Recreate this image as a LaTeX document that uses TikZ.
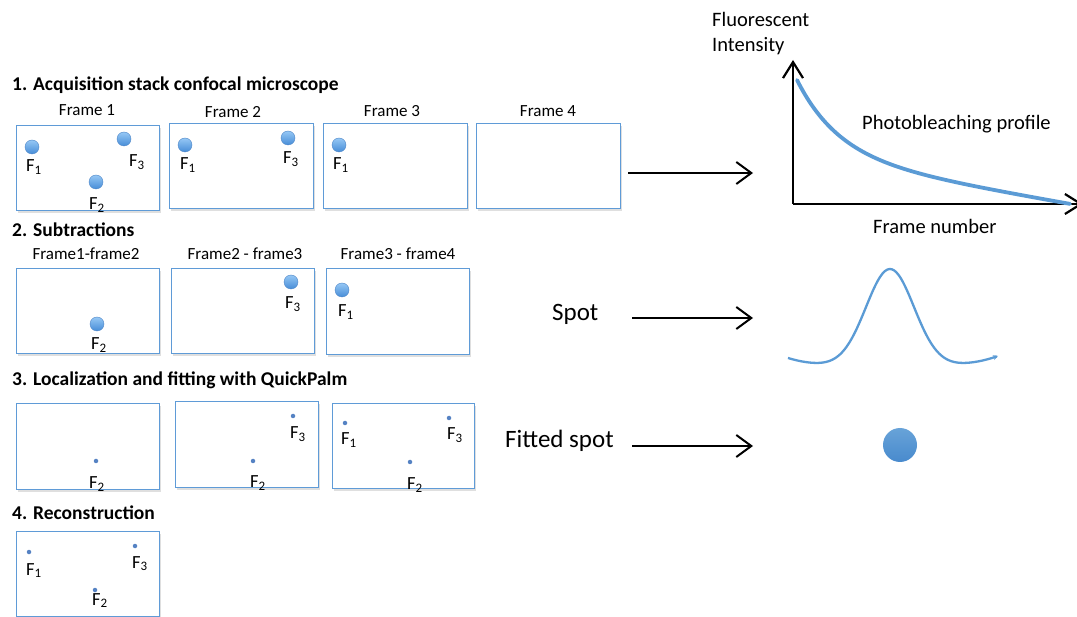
\documentclass[tikz,border=0pt]{standalone}
\usepackage{fontspec}
\setmainfont{Carlito}
\usetikzlibrary{arrows.meta,shadows}
\definecolor{frameblue}{RGB}{95,155,215}
\definecolor{dottop}{RGB}{150,200,245}
\definecolor{dotbot}{RGB}{70,140,215}
\definecolor{dotedge}{RGB}{80,135,200}
\definecolor{smalldot}{RGB}{85,130,195}
\definecolor{curveblue}{RGB}{91,155,213}
\definecolor{fitblue}{RGB}{72,138,205}
\begin{document}
\begin{tikzpicture}[x=1pt,y=-1pt,
  framebox/.style={draw=frameblue, line width=1.3pt, fill=white, anchor=north west, inner sep=0,
    drop shadow={shadow xshift=1.5pt, shadow yshift=-2pt, opacity=0.25, fill=gray}},
  bigdot/.style={circle, minimum size=14pt, inner sep=0, top color=dottop, bottom color=dotbot, draw=dotedge, line width=0.4pt},
  smdot/.style={circle, minimum size=4.5pt, inner sep=0, fill=smalldot},
  flab/.style={anchor=base west, inner sep=0, font=\fontsize{18.5}{18.5}\selectfont},
  frlab/.style={anchor=base, inner sep=0, font=\fontsize{17}{17}\selectfont},
  head/.style={anchor=base west, inner sep=0, font=\bfseries\fontsize{19.5}{20}\selectfont},
  rlab/.style={anchor=base west, inner sep=0, font=\fontsize{20.5}{21}\selectfont},
  blab/.style={anchor=base west, inner sep=0, font=\fontsize{25}{26}\selectfont},
  arr/.style={line width=2pt, -{Straight Barb[length=15pt,width=22pt,line width=2pt]}},
  axis/.style={line width=2.2pt, -{Straight Barb[length=16pt,width=20pt,line width=2.2pt]}}
]
\useasboundingbox (0,0) rectangle (1077,617);

% ---------- Row 1 ----------
\node[head] (h1) at (12,91) {1. Acquisition stack confocal microscope};
\node[frlab] (l11) at (87,116) {Frame 1};
\node[frlab] (l12) at (233,118) {Frame 2};
\node[frlab] (l13) at (392,117) {Frame 3};
\node[frlab] (l14) at (548,117) {Frame 4};
\node[framebox, minimum width=143pt, minimum height=85pt] (f11) at (16,125) {};
\node[framebox, minimum width=144pt, minimum height=85pt] (f12) at (169,123) {};
\node[framebox, minimum width=144pt, minimum height=85pt] (f13) at (323,123) {};
\node[framebox, minimum width=144pt, minimum height=85pt] (f14) at (476,123) {};
% frame 1
\node[bigdot] (d111) at (32,147) {};
\node[flab] (t111) at (26,172) {F\textsubscript{1}};
\node[bigdot] (d113) at (124,139) {};
\node[flab] (t113) at (129,167) {F\textsubscript{3}};
\node[bigdot] (d112) at (96,182) {};
\node[flab] (t112) at (89,210) {F\textsubscript{2}};
% frame 2
\node[bigdot] (d121) at (185,145) {};
\node[flab] (t121) at (180,170) {F\textsubscript{1}};
\node[bigdot] (d123) at (288,138) {};
\node[flab] (t123) at (283,164) {F\textsubscript{3}};
% frame 3
\node[bigdot] (d131) at (339,145) {};
\node[flab] (t131) at (333,170) {F\textsubscript{1}};

% ---------- Row 2 ----------
\node[head] (h2) at (12,237) {2. Subtractions};
\node[frlab] (l21) at (86,260) {Frame1-frame2};
\node[frlab] (l22) at (245,260) {Frame2 - frame3};
\node[frlab] (l23) at (398,260) {Frame3 - frame4};
\node[framebox, minimum width=143pt, minimum height=85pt] (f21) at (16,268) {};
\node[framebox, minimum width=143pt, minimum height=85pt] (f22) at (171,268) {};
\node[framebox, minimum width=143pt, minimum height=86pt] (f23) at (326,268) {};
\node[bigdot] (d212) at (97,324) {};
\node[flab] (t212) at (91,350) {F\textsubscript{2}};
\node[bigdot] (d223) at (291,282) {};
\node[flab] (t223) at (285,309) {F\textsubscript{3}};
\node[bigdot] (d231) at (342,290) {};
\node[flab] (t231) at (338,317) {F\textsubscript{1}};

% ---------- Row 3 ----------
\node[head] (h3) at (12,386) {3. Localization and fitting with QuickPalm};
\node[framebox, minimum width=143pt, minimum height=86pt] (f31) at (16,403) {};
\node[framebox, minimum width=143pt, minimum height=86pt] (f32) at (175,401) {};
\node[framebox, minimum width=142pt, minimum height=85pt] (f33) at (332,403) {};
\node[smdot] (d312) at (96,461) {};
\node[flab] (t312) at (89,489) {F\textsubscript{2}};
\node[smdot] (d323) at (293,416) {};
\node[flab] (t323) at (290,439) {F\textsubscript{3}};
\node[smdot] (d322) at (253,461) {};
\node[flab] (t322) at (250,488) {F\textsubscript{2}};
\node[smdot] (d331) at (345,423) {};
\node[flab] (t331) at (341,445) {F\textsubscript{1}};
\node[smdot] (d333) at (449,418) {};
\node[flab] (t333) at (447,440) {F\textsubscript{3}};
\node[smdot] (d332) at (410,462) {};
\node[flab] (t332) at (407,490) {F\textsubscript{2}};

% ---------- Row 4 ----------
\node[head] (h4) at (12,520) {4. Reconstruction};
\node[framebox, minimum width=143pt, minimum height=85pt] (f41) at (16,531) {};
\node[smdot] (d411) at (29,552) {};
\node[flab] (t411) at (26,575) {F\textsubscript{1}};
\node[smdot] (d413) at (135,546) {};
\node[flab] (t413) at (132,568) {F\textsubscript{3}};
\node[smdot] (d412) at (95,590) {};
\node[flab] (t412) at (92,605) {F\textsubscript{2}};

% ---------- Right: photobleaching ----------
\coordinate (a1s) at (628,173);
\coordinate (a1e) at (753,173);
\draw[arr] (a1s) -- (a1e);
\coordinate (org) at (793,204);
\coordinate (ytop) at (793,60);
\coordinate (xend) at (1083,204);
\draw[axis] (org) -- (ytop);
\draw[axis] (org) -- (xend);
\node[rlab] (fl) at (712,27) {Fluorescent};
\node[rlab] (fi) at (712,52) {Intensity};
\node[rlab] (pp) at (862,130) {Photobleaching profile};
\node[rlab] (fn) at (873,234) {Frame number};
\draw[curveblue, line width=3.8pt, line cap=round]
  plot[domain=0:273, samples=80, smooth] ({797+\x},{204-(76*exp(-\x/42)+48*(273-\x)/273)});

% ---------- Right: spot ----------
\node[blab] (sp) at (552,321) {Spot};
\coordinate (a2s) at (632,318);
\coordinate (a2e) at (753,318);
\draw[arr] (a2s) -- (a2e);
\draw[curveblue, line width=2.3pt, -{Stealth[length=5pt,width=5pt]}]
  plot[domain=-102:108, samples=90, smooth] ({890+\x},{366-97*exp(-(\x/34)^2)-9*(\x/105)^4});

% ---------- Right: fitted spot ----------
\coordinate (a3s) at (632,446);
\coordinate (a3e) at (753,446);
\node[blab] (fs) at (505,448) {Fitted spot};
\draw[arr] (a3s) -- (a3e);
\node[circle, minimum size=34pt, inner sep=0, top color=curveblue!92!white, bottom color=fitblue] (fdot) at (900,445) {};
\end{tikzpicture}
\end{document}
